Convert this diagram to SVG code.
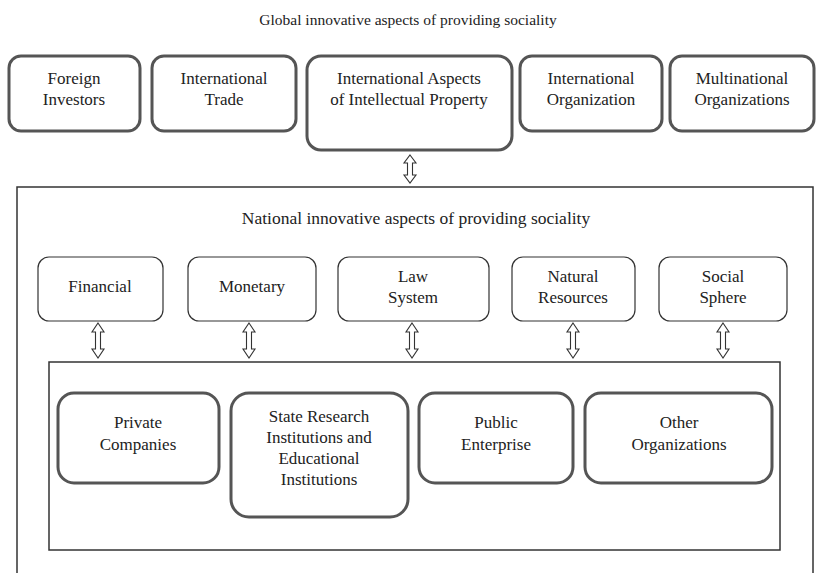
<svg xmlns="http://www.w3.org/2000/svg" width="816" height="573" viewBox="0 0 816 573">
<style>
text{font-family:'Liberation Serif','Times New Roman',serif;font-size:17px;fill:#222;text-anchor:middle}
.title{font-size:15.5px}
.ntitle{font-size:17.5px}
.thick{fill:#fff;stroke:#555;stroke-width:3}
.thin{fill:#fff;stroke:#333;stroke-width:1.2}
.frame{fill:none;stroke:#333;stroke-width:1.5}
.arr{fill:#fff;stroke:#333;stroke-width:1.1;stroke-linejoin:miter}
</style>
<rect width="816" height="573" fill="#fff"/>
<text class="title" x="408" y="25">Global innovative aspects of providing sociality</text>
<g id="national-frame"><rect class="frame" x="17" y="187" width="796" height="400"/>
<text class="ntitle" x="416" y="224">National innovative aspects of providing sociality</text></g>
<g id="foreign-investors"><rect class="thick" x="9" y="56" width="131" height="75" rx="12"/><text x="74" y="84">Foreign</text><text x="74" y="105">Investors</text></g>
<g id="international-trade"><rect class="thick" x="152" y="56" width="144" height="75" rx="12"/><text x="224" y="84">International</text><text x="224" y="105">Trade</text></g>
<g id="intellectual-property"><rect class="thick" x="307" y="56" width="205" height="94" rx="14"/><text x="409" y="84">International Aspects</text><text x="409" y="105">of Intellectual Property</text></g>
<g id="international-organization"><rect class="thick" x="520" y="56" width="142" height="75" rx="12"/><text x="591" y="84">International</text><text x="591" y="105">Organization</text></g>
<g id="multinational-organizations"><rect class="thick" x="670" y="56" width="144" height="75" rx="12"/><text x="742" y="84">Multinational</text><text x="742" y="105">Organizations</text></g>
<g id="financial"><rect class="thin" x="38" y="257" width="125" height="64" rx="11"/><text x="100" y="292">Financial</text></g>
<g id="monetary"><rect class="thin" x="188" y="257" width="128" height="64" rx="11"/><text x="252" y="292">Monetary</text></g>
<g id="law-system"><rect class="thin" x="338" y="257" width="151" height="64" rx="11"/><text x="413" y="282">Law</text><text x="413" y="303">System</text></g>
<g id="natural-resources"><rect class="thin" x="512" y="257" width="123" height="64" rx="11"/><text x="573" y="282">Natural</text><text x="573" y="303">Resources</text></g>
<g id="social-sphere"><rect class="thin" x="659" y="257" width="128" height="64" rx="11"/><text x="723" y="282">Social</text><text x="723" y="303">Sphere</text></g>
<g id="inner-frame"><rect class="frame" x="49" y="362" width="731" height="188"/></g>
<g id="private-companies"><rect class="thick" x="58" y="393" width="161" height="90" rx="16" stroke-width="2.5"/><text x="138" y="428">Private</text><text x="138" y="450">Companies</text></g>
<g id="state-research"><rect class="thick" x="231" y="393" width="177" height="124" rx="18" stroke-width="2.5"/><text x="319" y="422">State Research</text><text x="319" y="443">Institutions and</text><text x="319" y="464">Educational</text><text x="319" y="485">Institutions</text></g>
<g id="public-enterprise"><rect class="thick" x="419" y="393" width="154" height="90" rx="16" stroke-width="2.5"/><text x="496" y="428">Public</text><text x="496" y="450">Enterprise</text></g>
<g id="other-organizations"><rect class="thick" x="585" y="393" width="187" height="90" rx="16" stroke-width="2.5"/><text x="679" y="428">Other</text><text x="679" y="450">Organizations</text></g>
<g id="connectors">
<polygon class="arr" points="410,155 416,163 412.5,163 412.5,175 416,175 410,183 404,175 407.5,175 407.5,163 404,163"/>
<polygon class="arr" points="98,323 104,332 100.5,332 100.5,349 104,349 98,358 92,349 95.5,349 95.5,332 92,332"/>
<polygon class="arr" points="249,323 255,332 251.5,332 251.5,349 255,349 249,358 243,349 246.5,349 246.5,332 243,332"/>
<polygon class="arr" points="412,323 418,332 414.5,332 414.5,349 418,349 412,358 406,349 409.5,349 409.5,332 406,332"/>
<polygon class="arr" points="573,323 579,332 575.5,332 575.5,349 579,349 573,358 567,349 570.5,349 570.5,332 567,332"/>
<polygon class="arr" points="723,323 729,332 725.5,332 725.5,349 729,349 723,358 717,349 720.5,349 720.5,332 717,332"/>
</g>
</svg>
